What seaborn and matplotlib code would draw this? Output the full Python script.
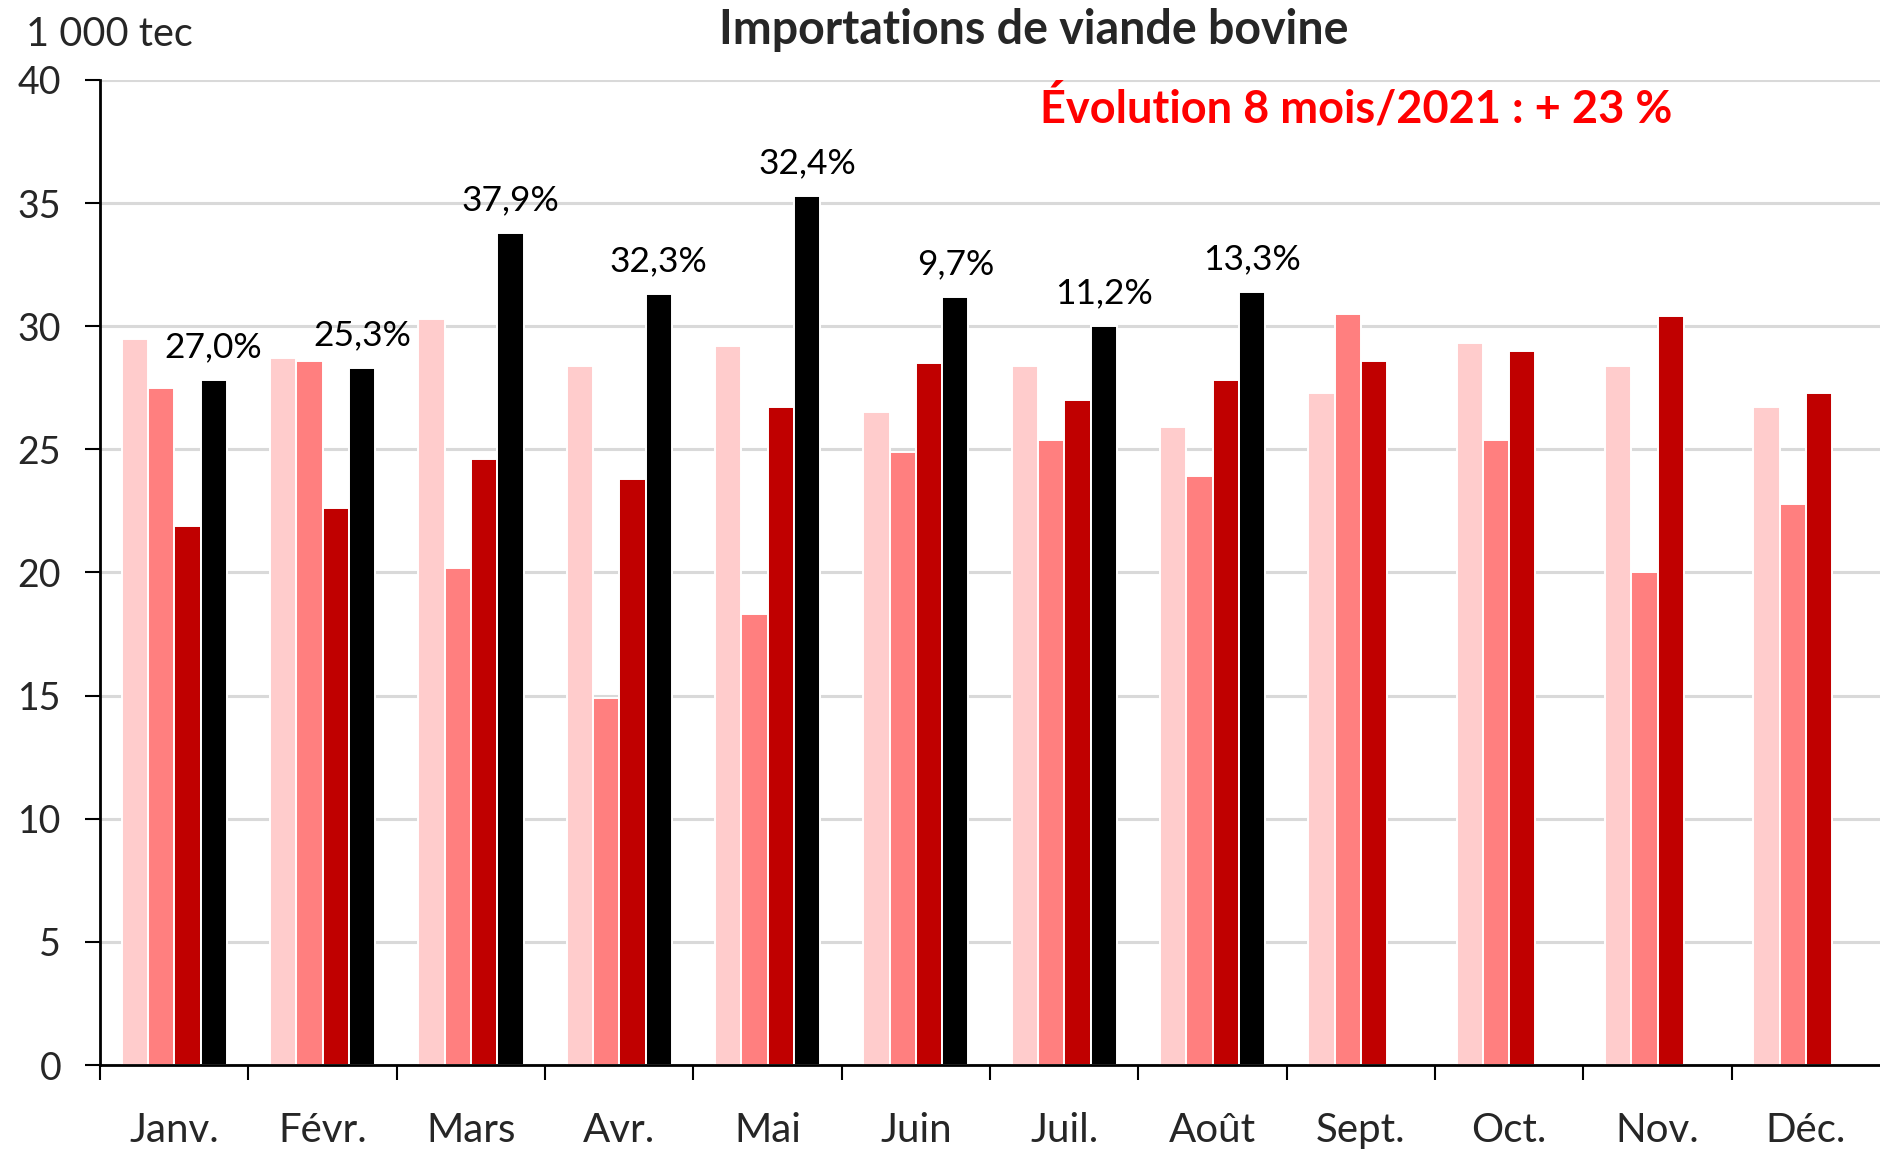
import matplotlib
matplotlib.use("Agg")
import matplotlib.pyplot as plt
import seaborn as sns
import pandas as pd
import numpy as np
from matplotlib.ticker import FixedLocator

# Data (1 000 tec)
months = ["Janv.", "Févr.", "Mars", "Avr.", "Mai", "Juin",
          "Juil.", "Août", "Sept.", "Oct.", "Nov.", "Déc."]
years = ["2019", "2020", "2021", "2022"]
v2019 = [29.5, 28.7, 30.3, 28.4, 29.2, 26.5, 28.4, 25.9, 27.3, 29.3, 28.4, 26.7]
v2020 = [27.5, 28.6, 20.2, 14.9, 18.3, 24.9, 25.4, 23.9, 30.5, 25.4, 20.0, 22.8]
v2021 = [21.9, 22.6, 24.6, 23.8, 26.7, 28.5, 27.0, 27.8, 28.6, 29.0, 30.4, 27.3]
v2022 = [27.8, 28.3, 33.8, 31.3, 35.3, 31.2, 30.0, 31.4]
pct_labels = ["27,0%", "25,3%", "37,9%", "32,3%", "32,4%", "9,7%", "11,2%", "13,3%"]
colors = ["#FFCCCC", "#FF7F7F", "#C00000", "#000000"]

rows = []
for y, vals in zip(years, [v2019, v2020, v2021, v2022]):
    for m, v in zip(months, vals):
        rows.append({"mois": m, "annee": y, "valeur": v})
df = pd.DataFrame(rows)

sns.set_style("white")
plt.rcParams["font.family"] = ["Lato", "DejaVu Sans"]

fig = plt.figure(figsize=(18.8, 11.49), dpi=100)
ax = fig.add_axes([0.0532, 0.0731, 0.9468, 0.8573])

sns.barplot(data=df, x="mois", y="valeur", hue="annee", order=months,
            hue_order=years, palette=colors, width=0.71, saturation=1,
            edgecolor="white", linewidth=1.4, legend=False, ax=ax, zorder=3)

# labels above the 2022 bars
for bar, lab in zip(ax.containers[3], pct_labels):
    ax.annotate(lab, (bar.get_x() + bar.get_width() / 2, bar.get_height()),
                xytext=(0, 12), textcoords="offset points",
                ha="center", va="bottom", fontsize=25.5, color="black")

ax.set_xlim(-0.5, 11.5)
ax.set_ylim(0, 40)
ax.set_yticks(range(0, 41, 5))
ax.yaxis.grid(True, color="#D9D9D9", linewidth=2.2, zorder=0)
ax.set_axisbelow(True)
ax.set_xlabel("")
ax.set_ylabel("")

for s in ["top", "right"]:
    ax.spines[s].set_visible(False)
for s in ["left", "bottom"]:
    ax.spines[s].set_color("black")
    ax.spines[s].set_linewidth(2)
    ax.spines[s].set_zorder(6)

ax.tick_params(axis="y", length=11, width=1.5, color="black",
               labelsize=27, pad=17, left=True)
ax.tick_params(axis="x", which="major", length=0, labelsize=29, pad=34)
ax.xaxis.set_minor_locator(FixedLocator(np.arange(-0.5, 11, 1)))
ax.tick_params(axis="x", which="minor", length=11, width=1.5,
               color="black", bottom=True, direction="out")

fig.text(0.55, 0.974, "Importations de viande bovine", ha="center",
         va="center", fontsize=33.5, fontweight="bold")
fig.text(0.7213, 0.906, "Évolution 8 mois/2021 : + 23 %", ha="center",
         va="center", fontsize=32.5, fontweight="bold", color="#FF0000")
fig.text(0.014, 0.970, "1 000 tec", ha="left", va="center", fontsize=28.5)

fig.savefig("out.png", dpi=100)
